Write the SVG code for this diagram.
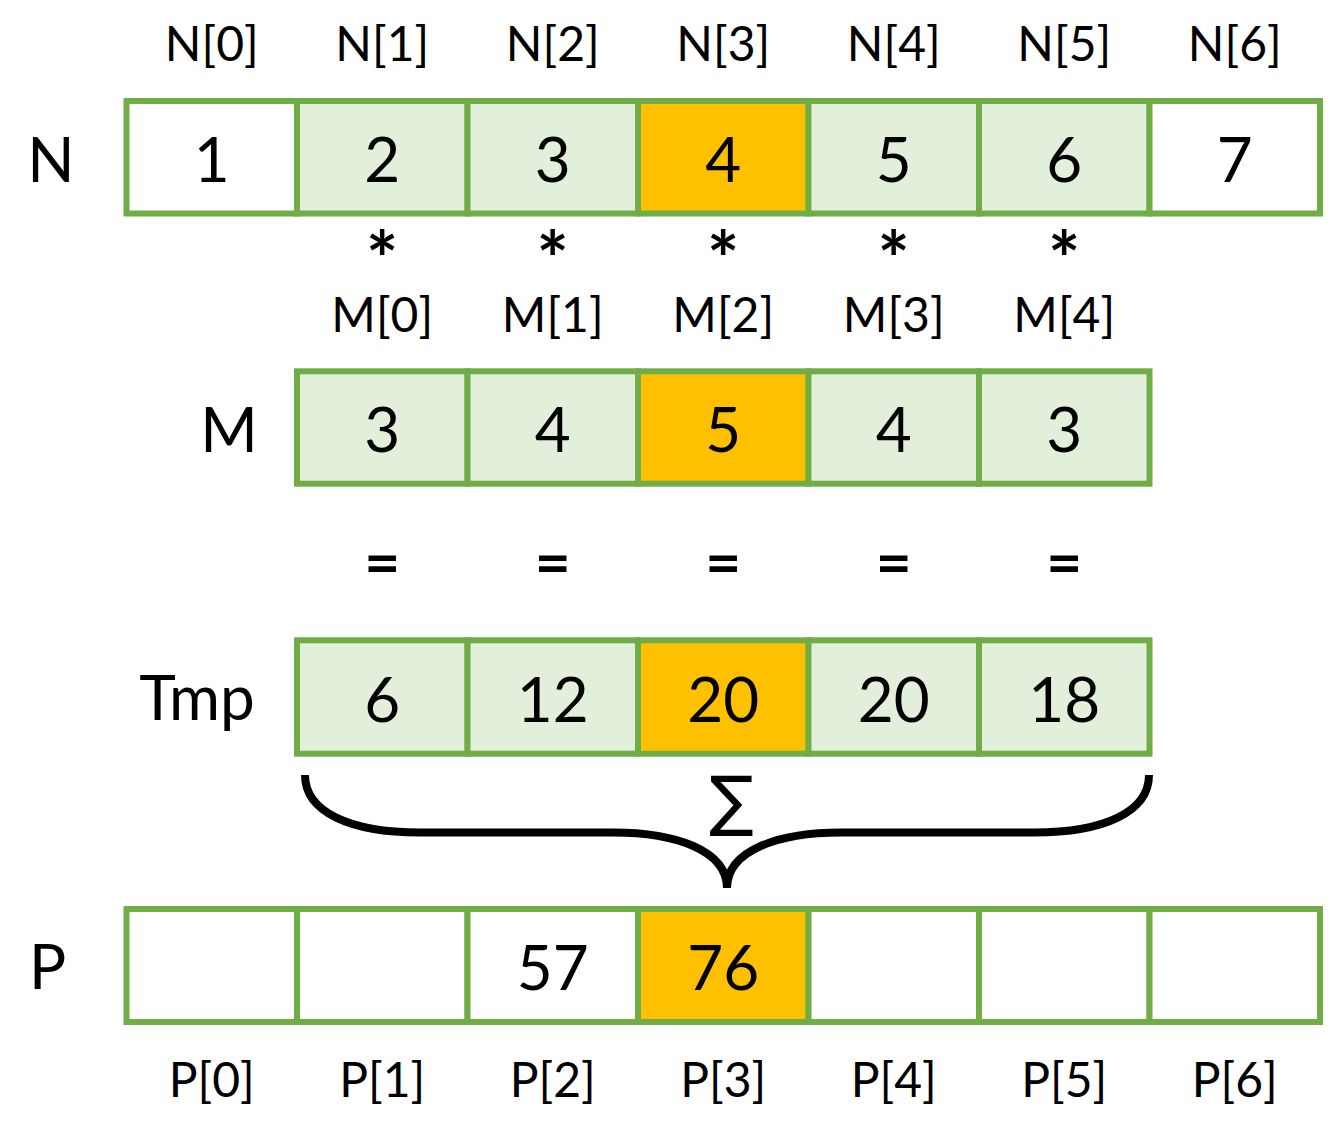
<svg xmlns="http://www.w3.org/2000/svg" width="1344" height="1132" viewBox="0 0 1344 1132">
<style>
.c{stroke:#70AD47;stroke-width:6}
.w{fill:#FFFFFF}
.g{fill:#E2EFDA}
.o{fill:#FFC000}
.v{font-family:Lato,"Liberation Sans",sans-serif;font-size:62px;fill:#000;text-anchor:middle}
.l{font-family:Lato,"Liberation Sans",sans-serif;font-size:48px;fill:#000;text-anchor:middle}
.st{font-family:Lato,"Liberation Sans",sans-serif;font-size:76px;font-weight:bold;fill:#000;text-anchor:middle}
.eq{font-family:Lato,"Liberation Sans",sans-serif;font-size:62px;font-weight:bold;fill:#000;text-anchor:middle}
</style>
<rect width="1344" height="1132" fill="#FFFFFF"/>
<g id="labels">
<text class="l" x="211.75" y="61">N[0]</text>
<text class="l" x="382.25" y="61">N[1]</text>
<text class="l" x="552.75" y="61">N[2]</text>
<text class="l" x="723.25" y="61">N[3]</text>
<text class="l" x="893.75" y="61">N[4]</text>
<text class="l" x="1064.25" y="61">N[5]</text>
<text class="l" x="1234.75" y="61">N[6]</text>
<text class="st" x="382.25" y="287">*</text>
<text class="st" x="552.75" y="287">*</text>
<text class="st" x="723.25" y="287">*</text>
<text class="st" x="893.75" y="287">*</text>
<text class="st" x="1064.25" y="287">*</text>
<text class="l" x="382.25" y="332">M[0]</text>
<text class="l" x="552.75" y="332">M[1]</text>
<text class="l" x="723.25" y="332">M[2]</text>
<text class="l" x="893.75" y="332">M[3]</text>
<text class="l" x="1064.25" y="332">M[4]</text>
<text class="eq" x="382.25" y="584">=</text>
<text class="eq" x="552.75" y="584">=</text>
<text class="eq" x="723.25" y="584">=</text>
<text class="eq" x="893.75" y="584">=</text>
<text class="eq" x="1064.25" y="584">=</text>
<text class="l" x="211.75" y="1097">P[0]</text>
<text class="l" x="382.25" y="1097">P[1]</text>
<text class="l" x="552.75" y="1097">P[2]</text>
<text class="l" x="723.25" y="1097">P[3]</text>
<text class="l" x="893.75" y="1097">P[4]</text>
<text class="l" x="1064.25" y="1097">P[5]</text>
<text class="l" x="1234.75" y="1097">P[6]</text>
<text class="v" x="51" y="181.7">N</text>
<text class="v" x="229" y="451.7">M</text>
<text class="v" x="197" y="720">Tmp</text>
<text class="v" x="47.5" y="989">P</text>
</g>
<g id="rowN">
<g id="n0"><rect class="c w" x="126.5" y="101" width="170.5" height="112.5"/><text class="v" x="211.75" y="181.7">1</text></g>
<g id="n1"><rect class="c g" x="297" y="101" width="170.5" height="112.5"/><text class="v" x="382.25" y="181.7">2</text></g>
<g id="n2"><rect class="c g" x="467.5" y="101" width="170.5" height="112.5"/><text class="v" x="552.75" y="181.7">3</text></g>
<g id="n3"><rect class="c o" x="638" y="101" width="170.5" height="112.5"/><text class="v" x="723.25" y="181.7">4</text></g>
<g id="n4"><rect class="c g" x="808.5" y="101" width="170.5" height="112.5"/><text class="v" x="893.75" y="181.7">5</text></g>
<g id="n5"><rect class="c g" x="979" y="101" width="170.5" height="112.5"/><text class="v" x="1064.25" y="181.7">6</text></g>
<g id="n6"><rect class="c w" x="1149.5" y="101" width="170.5" height="112.5"/><text class="v" x="1234.75" y="181.7">7</text></g>
</g>
<g id="rowM">
<g id="m0"><rect class="c g" x="297" y="371.3" width="170.5" height="112.4"/><text class="v" x="382.25" y="451.7">3</text></g>
<g id="m1"><rect class="c g" x="467.5" y="371.3" width="170.5" height="112.4"/><text class="v" x="552.75" y="451.7">4</text></g>
<g id="m2"><rect class="c o" x="638" y="371.3" width="170.5" height="112.4"/><text class="v" x="723.25" y="451.7">5</text></g>
<g id="m3"><rect class="c g" x="808.5" y="371.3" width="170.5" height="112.4"/><text class="v" x="893.75" y="451.7">4</text></g>
<g id="m4"><rect class="c g" x="979" y="371.3" width="170.5" height="112.4"/><text class="v" x="1064.25" y="451.7">3</text></g>
</g>
<g id="rowTmp">
<g id="t0"><rect class="c g" x="297" y="640.3" width="170.5" height="113.4"/><text class="v" x="382.25" y="721.7">6</text></g>
<g id="t1"><rect class="c g" x="467.5" y="640.3" width="170.5" height="113.4"/><text class="v" x="552.75" y="721.7">12</text></g>
<g id="t2"><rect class="c o" x="638" y="640.3" width="170.5" height="113.4"/><text class="v" x="723.25" y="721.7">20</text></g>
<g id="t3"><rect class="c g" x="808.5" y="640.3" width="170.5" height="113.4"/><text class="v" x="893.75" y="721.7">20</text></g>
<g id="t4"><rect class="c g" x="979" y="640.3" width="170.5" height="113.4"/><text class="v" x="1064.25" y="721.7">18</text></g>
</g>
<g id="rowP">
<g id="p0"><rect class="c w" x="126.5" y="909" width="170.5" height="113"/></g>
<g id="p1"><rect class="c w" x="297" y="909" width="170.5" height="113"/></g>
<g id="p2"><rect class="c w" x="467.5" y="909" width="170.5" height="113"/><text class="v" x="552.75" y="989.5">57</text></g>
<g id="p3"><rect class="c o" x="638" y="909" width="170.5" height="113"/><text class="v" x="723.25" y="989.5">76</text></g>
<g id="p4"><rect class="c w" x="808.5" y="909" width="170.5" height="113"/></g>
<g id="p5"><rect class="c w" x="979" y="909" width="170.5" height="113"/></g>
<g id="p6"><rect class="c w" x="1149.5" y="909" width="170.5" height="113"/></g>
</g>
<g id="connectors">
<path d="M305,775 C305,812 350,832.5 420,832.5 L613,832.5 C675,832.5 727,850 727,888 C727,850 779,832.5 841,832.5 L1034,832.5 C1104,832.5 1149,812 1149,775" fill="none" stroke="#000" stroke-width="8"/>
<text x="731.5" y="823" font-family="DejaVu Sans,sans-serif" font-size="66" text-anchor="middle" fill="#000">∑</text>
</g>
</svg>
